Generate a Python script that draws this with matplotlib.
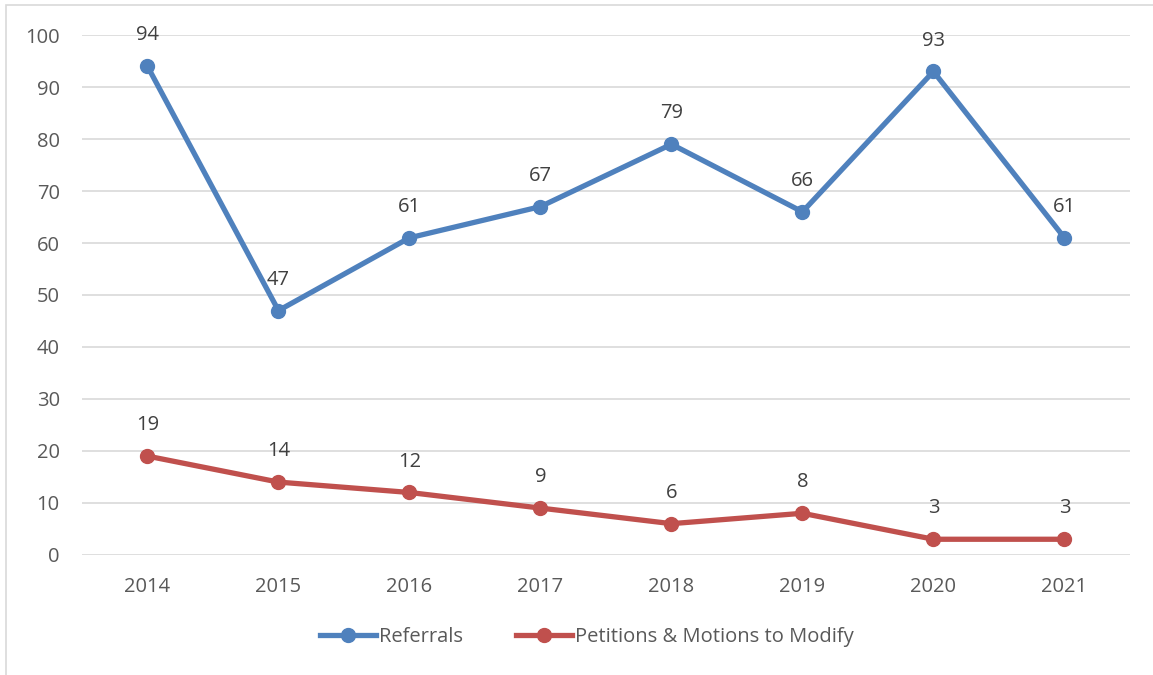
import matplotlib
matplotlib.use('Agg')
import matplotlib.pyplot as plt
from matplotlib.patches import Rectangle

years = ['2014', '2015', '2016', '2017', '2018', '2019', '2020', '2021']
referrals = [94, 47, 61, 67, 79, 66, 93, 61]
petitions = [19, 14, 12, 9, 6, 8, 3, 3]

blue = '#4F81BD'
red = '#C0504D'
txt = '#595959'

plt.rcParams['font.family'] = ['Open Sans', 'DejaVu Sans']

fig = plt.figure(figsize=(11.53, 6.75), dpi=100)
ax = fig.add_axes([0.0711, 0.178, 0.9089, 0.770])

x = list(range(len(years)))
ax.plot(x, referrals, color=blue, lw=3.8, marker='o', ms=10, label='Referrals', zorder=3)
ax.plot(x, petitions, color=red, lw=3.8, marker='o', ms=10, label='Petitions & Motions to Modify', zorder=3)

# data labels above each point
for xi, v in zip(x, referrals):
    ax.annotate(str(v), (xi, v), xytext=(0, 15), textcoords='offset points',
                ha='center', va='bottom', fontsize=14.5, color='#404040')
for xi, v in zip(x, petitions):
    ax.annotate(str(v), (xi, v), xytext=(0, 15), textcoords='offset points',
                ha='center', va='bottom', fontsize=14.5, color='#404040')

ax.set_xlim(-0.5, len(years) - 0.5)
ax.set_ylim(0, 100)
ax.set_yticks(range(0, 101, 10))
ax.set_xticks(x)
ax.set_xticklabels(years)
ax.grid(axis='y', color='#D9D9D9', lw=1.2)
ax.set_axisbelow(True)
for s in ax.spines.values():
    s.set_visible(False)
ax.tick_params(length=0, labelsize=14.5, colors=txt)
ax.tick_params(axis='x', pad=16)
ax.tick_params(axis='y', pad=16)

leg = fig.legend(loc='center', bbox_to_anchor=(0.509, 0.056), ncol=2, frameon=False,
                 fontsize=14.5, handlelength=2.8, columnspacing=2.6, handletextpad=0.15)
for t in leg.get_texts():
    t.set_color(txt)

fig.patches.append(Rectangle((6 / 1153, -0.1), 1.2, 1.1 - 5 / 675, transform=fig.transFigure,
                             fill=False, edgecolor='#D9D9D9', lw=1.2))

fig.savefig('out.png', dpi=100)
